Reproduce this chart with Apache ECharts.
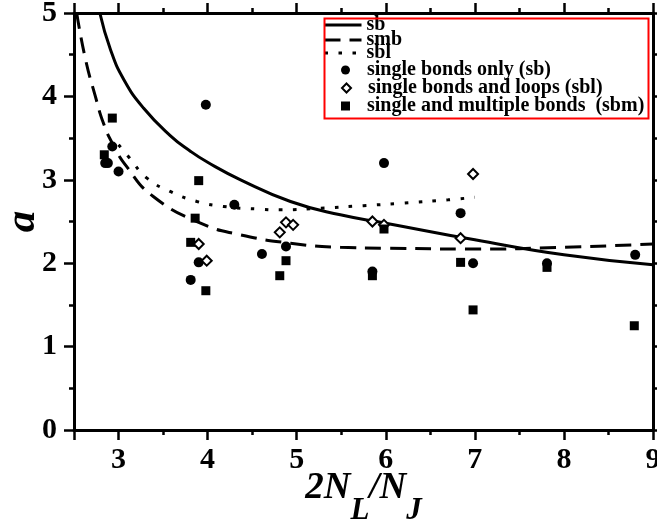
<!DOCTYPE html>
<html>
<head>
<meta charset="utf-8">
<script src="https://cdn.jsdelivr.net/npm/echarts@6/dist/echarts.min.js"></script>
<style>
html,body{margin:0;padding:0;background:#fff;}
#chart{width:657px;height:525px;}
</style>
</head>
<body>
<div id="chart"></div>
<script>
// ---- data ----
const lineNames = ['sb', 'smb', 'sbl'];
const pointNames = ['single bonds only (sb)', 'single bonds and loops (sbl)', 'single and multiple bonds  (sbm)'];

const sbCurve = [[2.79,5.0],[2.91,4.56],[3.06,4.20],[3.28,3.86],[3.58,3.53],[3.81,3.34],[4.0,3.21],[4.37,3.00],[4.93,2.74],[5.49,2.58],[6.0,2.48],[7.0,2.28],[8.0,2.10],[9.0,1.98]];
const smbCurve = [[2.53,5.0],[2.63,4.44],[2.74,4.0],[2.83,3.68],[2.93,3.44],[3.09,3.16],[3.39,2.80],[3.92,2.48],[4.37,2.34],[4.93,2.24],[5.49,2.19],[6.0,2.18],[7.0,2.17],[8.0,2.19],[9.0,2.23]];
const sblCurve = [[3.0,3.42],[3.11,3.28],[3.32,3.02],[3.58,2.86],[3.88,2.74],[4.18,2.68],[4.55,2.65],[4.82,2.64],[5.27,2.66],[5.75,2.69],[6.2,2.72],[6.7,2.76],[7.0,2.79]];

const sbPoints = [[3.98,3.90],[2.93,3.40],[2.85,3.20],[2.88,3.20],[3.0,3.10],[4.30,2.70],[3.90,2.01],[3.81,1.80],[4.61,2.11],[4.88,2.20],[5.98,3.20],[6.84,2.60],[6.98,2.00],[5.85,1.90],[7.81,2.00],[8.80,2.10]];
const sblPoints = [[3.90,2.23],[3.99,2.03],[4.81,2.37],[4.88,2.49],[4.96,2.46],[6.98,3.07],[5.85,2.50],[5.98,2.46],[6.84,2.30]];
const sbmPoints = [[2.93,3.74],[2.84,3.30],[3.90,2.99],[3.86,2.54],[3.81,2.25],[3.98,1.67],[4.88,2.03],[4.81,1.85],[5.98,2.41],[6.84,2.01],[6.98,1.44],[5.85,1.85],[7.81,1.95],[8.79,1.25]];

const xMin = 2.5, xMax = 9, yMin = 0, yMax = 5;

// ---- chart ----
const FONT = 'Liberation Serif';
const chart = echarts.init(document.getElementById('chart'), null, {renderer: 'canvas'});

const axisLine = {show: true, lineStyle: {color: '#000', width: 3}};
const majorTick = {show: true, length: 10, lineStyle: {color: '#000', width: 2.5}};
const minorTickOnly = {show: true, length: 5, lineStyle: {color: '#000', width: 2.5}};
const tickLabel = {color: '#000', fontFamily: FONT, fontWeight: 'bold', fontSize: 30};
const intFmt = v => (Math.abs(v - Math.round(v)) < 1e-9 ? String(Math.round(v)) : '');

const xMain = (pos, showLabel) => ({
  type: 'value', position: pos, min: xMin, max: xMax, splitNumber: 6,
  axisLine: axisLine, axisTick: majorTick,
  axisLabel: Object.assign({show: showLabel, margin: 15, formatter: intFmt}, tickLabel),
  splitLine: {show: false}
});
const xMinor = (pos) => ({
  type: 'value', position: pos, min: xMin, max: xMax, interval: 0.5,
  axisLine: {show: false}, axisTick: minorTickOnly,
  axisLabel: {show: false}, splitLine: {show: false}
});
const yAx = (pos, showLabel) => ({
  type: 'value', position: pos, min: yMin, max: yMax, interval: 1,
  axisLine: axisLine, axisTick: majorTick,
  minorTick: {show: true, splitNumber: 2, length: 5, lineStyle: {color: '#000', width: 2.5}},
  axisLabel: Object.assign({show: showLabel, margin: 17}, tickLabel),
  splitLine: {show: false}
});

const xBottom = xMain('bottom', true);
xBottom.name = '{m|2N}{s|L}{m|/N}{s|J}';
xBottom.nameLocation = 'middle';
xBottom.nameMoveOverlap = false;
xBottom.nameGap = 40;
xBottom.nameTextStyle = {
  rich: {
    m: {fontFamily: FONT, fontWeight: 'bold', fontStyle: 'italic', fontSize: 37, lineHeight: 37, verticalAlign: 'top', color: '#000'},
    s: {fontFamily: FONT, fontWeight: 'bold', fontStyle: 'italic', fontSize: 31, lineHeight: 31, verticalAlign: 'top', padding: [25, 0, 0, 0], color: '#000'}
  }
};
const yLeft = yAx('left', true);
yLeft.name = 'a';
yLeft.nameLocation = 'middle';
yLeft.nameMoveOverlap = false;
yLeft.nameGap = 30;
yLeft.nameTextStyle = {fontFamily: FONT, fontWeight: 'bold', fontStyle: 'italic', fontSize: 43, color: '#000'};

const lineSeries = (name, data, dash) => ({
  name: name, type: 'line', data: data, xAxisIndex: 0, yAxisIndex: 0,
  symbol: 'none', smooth: 0.5, clip: true,
  lineStyle: {color: '#000', width: 3, type: dash, cap: 'butt'},
  itemStyle: {color: '#000'}, z: 2
});

const legendText = {fontFamily: FONT, fontWeight: 'bold', fontSize: 20, lineHeight: 20, color: '#000'};
// one legend per entry so each row sits where the reference has it
const lineLegendTops = [15, 30, 43];
const pointLegendTops = [60, 78, 96];
const legends = [];
lineNames.forEach((n, i) => legends.push({
  data: [n], orient: 'vertical', left: 323, top: lineLegendTops[i], padding: 0,
  itemWidth: 37, itemHeight: 14, itemGap: 0,
  lineStyle: {width: 3},
  itemStyle: {opacity: 0, borderWidth: 0},
  textStyle: legendText, selectedMode: false
}));
pointNames.forEach((n, i) => legends.push({
  data: [n], orient: 'vertical', left: 341, top: pointLegendTops[i], padding: 0,
  itemWidth: 9, itemHeight: 9, itemGap: 0,
  itemStyle: {opacity: 1},
  textStyle: Object.assign({padding: [0, 0, 0, 12]}, legendText), selectedMode: false
}));

const option = {
  backgroundColor: '#fff',
  animation: false,
  grid: {left: 74, right: 4, top: 13, bottom: 95, containLabel: false, outerBoundsMode: 'none'},
  xAxis: [xBottom, xMinor('bottom'), xMain('top', false), xMinor('top')],
  yAxis: [yLeft, yAx('right', false)],
  legend: legends,
  graphic: [{
    type: 'rect', left: 322, top: 16, z: 100, silent: true,
    shape: {width: 324, height: 100},
    style: {fill: 'none', stroke: '#ff0000', lineWidth: 2}
  }],
  series: [
    lineSeries(lineNames[0], sbCurve, 'solid'),
    lineSeries(lineNames[1], smbCurve, [16, 9]),
    lineSeries(lineNames[2], sblCurve, [3.5, 10.5]),
    {
      name: pointNames[0], type: 'scatter', data: sbPoints, symbol: 'circle', symbolSize: 10,
      itemStyle: {color: '#000', opacity: 1}, z: 3
    },
    {
      name: pointNames[1], type: 'scatter', data: sblPoints, symbol: 'diamond', symbolSize: 10,
      itemStyle: {color: '#fff', borderColor: '#000', borderWidth: 2, opacity: 1}, z: 3
    },
    {
      name: pointNames[2], type: 'scatter', data: sbmPoints, symbol: 'rect', symbolSize: 9,
      itemStyle: {color: '#000', opacity: 1}, z: 3
    }
  ]
};
chart.setOption(option);
</script>
</body>
</html>
